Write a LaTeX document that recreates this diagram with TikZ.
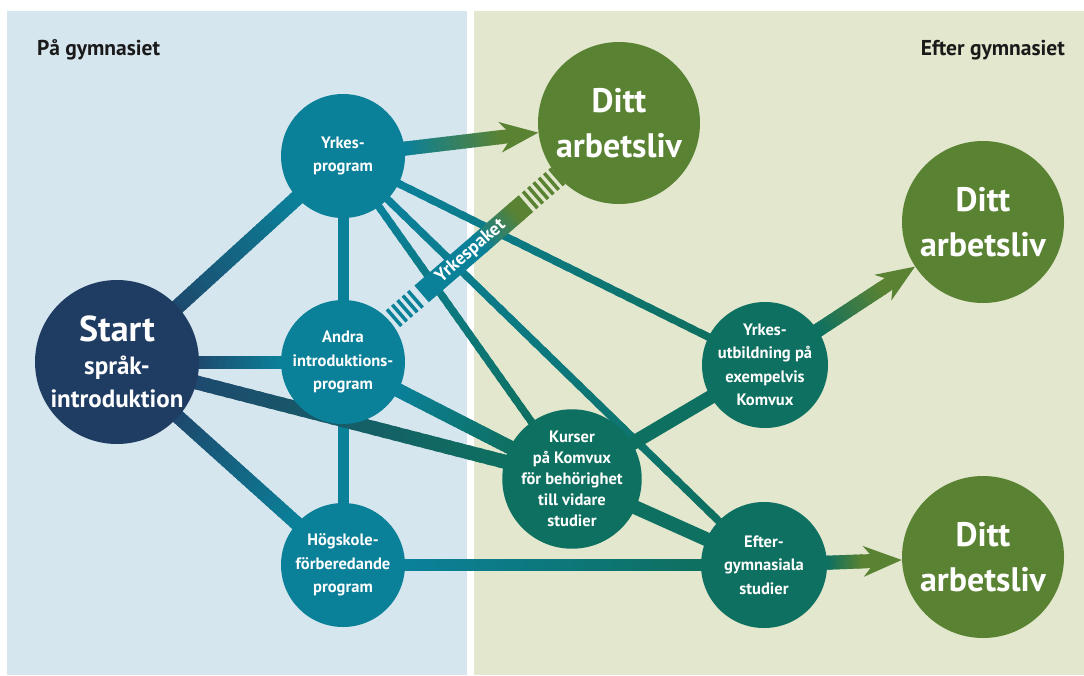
\documentclass[tikz,border=0pt]{standalone}
\usepackage{fontspec}
\setmainfont{PT Sans}
\usetikzlibrary{calc,arrows.meta}
\pgfdeclarelayer{back}
\pgfdeclarelayer{mid}
\pgfsetlayers{back,mid,main}
\definecolor{lpanel}{HTML}{D6E6EE}
\definecolor{rpanel}{HTML}{E2E7CD}
\definecolor{navyc}{HTML}{1F3C63}
\definecolor{navyl}{HTML}{1D4A6E}
\definecolor{progc}{HTML}{0B8099}
\definecolor{kvxc}{HTML}{0E7060}
\definecolor{dittc}{HTML}{5A8233}
\definecolor{headc}{HTML}{1A1A1A}
% gradient core: A, B, width, c1, c2, t0, t1
\newcommand\gcore[7]{%
  \draw[line width=#3, draw=#4] (#1.center) -- ($(#1)!#6+0.01!(#2)$);
  \foreach \i in {0,...,29}{%
    \pgfmathsetmacro\ta{#6+(#7-#6)*\i/30}%
    \pgfmathsetmacro\tb{#6+(#7-#6)*min(30,\i+1.5)/30}%
    \pgfmathtruncatemacro\pc{100-\i*100/29}%
    \draw[line width=#3, draw={#4!\pc!#5}] ($(#1)!\ta!(#2)$) -- ($(#1)!\tb!(#2)$);
  }}
\newcommand\gline[7]{%
  \gcore{#1}{#2}{#3}{#4}{#5}{#6}{#7}%
  \draw[line width=#3, draw=#5] ($(#1)!#7-0.01!(#2)$) -- (#2.center);}
\newcommand\garrow[7]{%
  \gcore{#1}{#2}{#3}{#4}{#5}{#6}{#7}%
  \draw[line width=#3, draw=#5, -{Stealth[length=38pt,width=30pt,inset=12pt]}] ($(#1)!#7-0.01!(#2)$) -- (#2);}
\tikzset{
  circ/.style={circle, inner sep=0pt, align=center, text=white},
  startn/.style={circ, fill=navyc, minimum size=164pt, font=\fontsize{25}{33}\selectfont\bfseries},
  prog/.style={circ, fill=progc, minimum size=124pt, font=\fontsize{16.5}{23.5}\selectfont\bfseries},
  kvx/.style={circ, fill=kvxc, minimum size=126pt, font=\fontsize{16.5}{23.5}\selectfont\bfseries},
  dittn/.style={circ, fill=dittc, minimum size=162pt, font=\fontsize{34}{45}\selectfont\bfseries},
  head/.style={text=headc, font=\fontsize{21.5}{24}\selectfont\bfseries, inner sep=0pt},
  band/.style={line width=22pt, line cap=butt},
}
\begin{document}
\begin{tikzpicture}[x=1pt, y=-1pt, line cap=butt]
\useasboundingbox (0,0) rectangle (1084,675);
\begin{pgfonlayer}{back}
  \fill[white] (0,0) rectangle (1084,675);
  \fill[lpanel] (7,11) rectangle (467,675);
  \fill[rpanel] (474,11) rectangle (1084,675);
\end{pgfonlayer}

\node[head, anchor=west] (h1) at (37,50) {På gymnasiet};
\node[head, anchor=east] (h2) at (1065,50) {Efter gymnasiet};

\node[startn] (st) at (117,362) {{\fontsize{36}{33}\selectfont Start}\\språk-\\introduktion};
\node[prog] (yp) at (343,156) {Yrkes-\\program};
\node[prog] (ai) at (343,362) {Andra\\introduktions-\\program};
\node[prog] (hf) at (343,565) {Högskole-\\förberedande\\program};
\node[dittn] (d1) at (619,123) {Ditt\\arbetsliv};
\node[dittn] (d2) at (983,222) {Ditt\\arbetsliv};
\node[dittn] (d3) at (983,557) {Ditt\\arbetsliv};
\node[kvx] (yu) at (765,365) {Yrkes-\\utbildning på\\exempelvis\\Komvux};
\node[kvx, font=\fontsize{16.5}{21}\selectfont\bfseries] (ku) at (572,479) {Kurser\\på Komvux\\för behörighet\\till vidare\\studier};
\node[kvx] (eg) at (764,565) {Efter-\\gymnasiala\\studier};

\begin{pgfonlayer}{mid}
  % thin lines from Yrkesprogram
  \gline{yp}{yu}{7.5pt}{progc}{kvxc}{0.13}{0.87}
  \gline{yp}{ku}{7.5pt}{progc}{kvxc}{0.16}{0.84}
  \gline{yp}{eg}{7.5pt}{progc}{kvxc}{0.11}{0.89}
  % vertical links
  \draw[line width=11pt, progc] (yp.center) -- (ai.center);
  \draw[line width=11pt, progc] (ai.center) -- (hf.center);
  % from Start
  \gline{st}{yp}{15pt}{navyl}{progc}{0.26}{0.80}
  \gline{st}{ai}{13pt}{navyl}{progc}{0.36}{0.73}
  \gline{st}{hf}{14pt}{navyl}{progc}{0.27}{0.80}
  \gline{st}{ku}{14pt}{navyl}{kvxc}{0.17}{0.86}
  % others
  \gline{ai}{ku}{14pt}{progc}{kvxc}{0.24}{0.75}
  \gline{hf}{eg}{12pt}{progc}{kvxc}{0.15}{0.85}
  \draw[line width=14pt, kvxc] (ku.center) -- (yu.center);
  \draw[line width=14pt, kvxc] (ku.center) -- (eg.center);
  % arrows
  \garrow{yp}{d1}{14pt}{progc}{dittc}{0.22}{0.58}
  \garrow{yu}{d2}{14pt}{kvxc}{dittc}{0.24}{0.54}
  \garrow{eg}{d3}{14pt}{kvxc}{dittc}{0.29}{0.45}
  % Yrkespaket band
  \draw[band, draw=progc, dash pattern=on 3.5pt off 3.5pt] ($(ai)!66pt!(d1)$) -- ($(ai)!101pt!(d1)$);
  \draw[band, draw=progc] ($(ai)!104pt!(d1)$) -- ($(ai)!182pt!(d1)$);
  \foreach \i in {0,...,19}{%
    \pgfmathsetmacro\sa{180+\i*2.5}%
    \pgfmathsetmacro\sb{180+\i*2.5+3.2}%
    \pgfmathtruncatemacro\pc{100-\i*100/19}%
    \draw[band, draw={progc!\pc!dittc}] ($(ai)!\sa pt!(d1)$) -- ($(ai)!\sb pt!(d1)$);
  }
  \draw[band, draw=dittc] ($(ai)!229pt!(d1)$) -- ($(ai)!242pt!(d1)$);
  \draw[band, draw=dittc, dash pattern=on 3.5pt off 3.5pt] ($(ai)!246pt!(d1)$) -- ($(ai)!296pt!(d1)$);
  \path ($(ai)!150pt!(d1)$) -- ($(ai)!188pt!(d1)$) node[midway, sloped, text=white, inner sep=0pt, font=\fontsize{18.5}{20}\selectfont\bfseries] (yk) {Yrkespaket};
\end{pgfonlayer}
\end{tikzpicture}
\end{document}
